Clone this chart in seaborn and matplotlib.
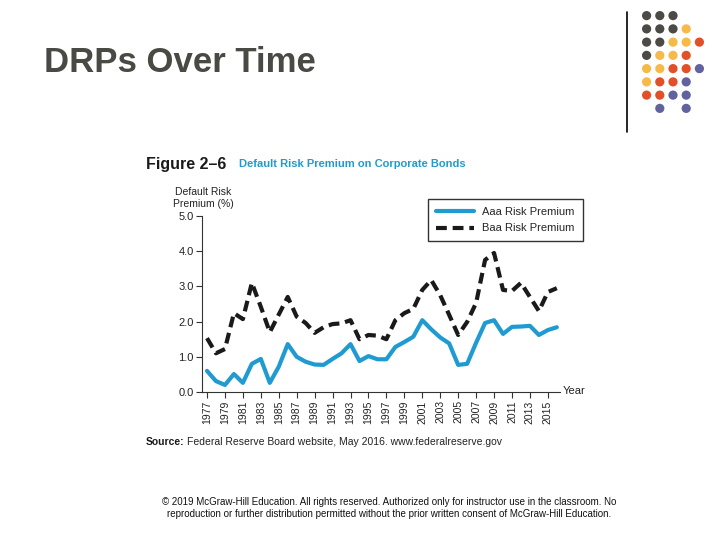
import matplotlib
matplotlib.use("Agg")
import matplotlib.pyplot as plt
import seaborn as sns
import pandas as pd
from matplotlib.lines import Line2D

# data (percent)
years = list(range(1977, 2017))
aaa = [0.60, 0.31, 0.20, 0.51, 0.26, 0.80, 0.94, 0.26, 0.72, 1.36,
       1.00, 0.86, 0.78, 0.77, 0.94, 1.10, 1.36, 0.88, 1.02, 0.93,
       0.93, 1.28, 1.42, 1.57, 2.04, 1.78, 1.55, 1.38, 0.77, 0.80,
       1.40, 1.96, 2.04, 1.65, 1.85, 1.86, 1.88, 1.62, 1.76, 1.84]
baa = [1.53, 1.10, 1.22, 2.24, 2.07, 3.10, 2.42, 1.70, 2.20, 2.70,
       2.14, 1.96, 1.68, 1.84, 1.93, 1.95, 2.04, 1.50, 1.62, 1.60,
       1.50, 2.04, 2.24, 2.36, 2.90, 3.18, 2.75, 2.19, 1.62, 1.99,
       2.53, 3.75, 3.95, 2.90, 2.87, 3.10, 2.70, 2.30, 2.84, 2.95]
xtick_years = list(range(1977, 2016, 2))
yticks = [0.0, 1.0, 2.0, 3.0, 4.0, 5.0]

# decorative dot grid, top right of the slide
dot_rows = [
    ["G", "G", "G", None, None],
    ["G", "G", "G", "Y", None],
    ["G", "G", "Y", "Y", "R"],
    ["G", "Y", "Y", "R", None],
    ["Y", "Y", "R", "R", "P"],
    ["Y", "R", "R", "P", None],
    ["R", "R", "P", "P", None],
    [None, "P", None, "P", None],
]
dot_colors = {"G": "#4b4a47", "Y": "#f6ba48", "R": "#e2502a", "P": "#62629e"}

sns.set_style("white")
plt.rcParams["font.family"] = ["Liberation Sans", "DejaVu Sans"]

fig = plt.figure(figsize=(7.2, 5.4), dpi=100)

# slide title
fig.text(44 / 720, 1 - 63 / 540, "DRPs Over Time", fontsize=25, fontweight="bold",
         color="#4a4a45", ha="left", va="center")

# slide decoration: vertical rule and dots
fig.add_artist(Line2D([627 / 720, 627 / 720], [1 - 12 / 540, 1 - 132 / 540],
                      color="black", lw=1.2))
dax = fig.add_axes([640 / 720, 1 - 115 / 540, 66 / 720, 106 / 540])
dx, dy, dc = [], [], []
for r, row in enumerate(dot_rows):
    for c, k in enumerate(row):
        if k:
            dx.append(c)
            dy.append(-r)
            dc.append(dot_colors[k])
sns.scatterplot(x=dx, y=dy, c=dc, s=44, linewidth=0, ax=dax)
dax.set_xlim(-0.5, 4.5)
dax.set_ylim(-7.5, 0.5)
dax.axis("off")

# figure caption
fig.text(146 / 720, 1 - 164 / 540, "Figure 2\u20136", fontsize=11.5, fontweight="bold",
         color="#1a1a1a", ha="left", va="center")
fig.text(239 / 720, 1 - 164 / 540, "Default Risk Premium on Corporate Bonds", fontsize=8,
         fontweight="bold", color="#1f9bd1", ha="left", va="center")
fig.text(203 / 720, 1 - 198 / 540, "Default Risk\nPremium (%)", fontsize=7.5,
         color="#222222", ha="center", va="center", linespacing=1.25)

ax = fig.add_axes([202 / 720, 1 - 392 / 540, 358 / 720, 176 / 540])
df = pd.DataFrame({"Year": years, "Aaa": aaa, "Baa": baa})
sns.lineplot(data=df, x="Year", y="Aaa", ax=ax, color="#1f9bd1", lw=3)
sns.lineplot(data=df, x="Year", y="Baa", ax=ax, color="#1a1a1a", lw=3,
             linestyle=(0, (2.6, 1.4)))
ax.set_xlim(1977 - 5 / 8.97, 1977 + 353 / 8.97)
ax.set_ylim(0, 5)
ax.set_xticks(xtick_years)
ax.set_xticklabels([str(y) for y in xtick_years], rotation=90, fontsize=7.5,
                   color="#222222")
ax.set_yticks(yticks)
ax.set_yticklabels([f"{v:.1f}" for v in yticks], fontsize=8, color="#222222")
ax.tick_params(axis="both", direction="out", length=4, width=0.8, color="#333333",
               pad=2, left=True, bottom=True)
sns.despine(ax=ax)
for s in ["left", "bottom"]:
    ax.spines[s].set_color("#333333")
    ax.spines[s].set_linewidth(0.8)
ax.set_xlabel("")
ax.set_ylabel("")
fig.text(563 / 720, 1 - 391 / 540, "Year", fontsize=8, color="#222222",
         ha="left", va="center")

handles = [Line2D([], [], color="#1f9bd1", lw=3),
           Line2D([], [], color="#1a1a1a", lw=3, linestyle=(0, (2.6, 1.4)))]
leg = fig.legend(handles, ["Aaa Risk Premium", "Baa Risk Premium"],
                 loc="upper left", bbox_to_anchor=(428 / 720, 1 - 199 / 540),
                 fontsize=8, frameon=True, fancybox=False, handlelength=3.4,
                 borderpad=0.7, labelspacing=0.6, borderaxespad=0)
leg.get_frame().set_edgecolor("black")
leg.get_frame().set_linewidth(1)

# source line
fig.text(146 / 720, 1 - 442 / 540, "Source:", fontsize=7.5, fontweight="bold",
         color="#1a1a1a", ha="left", va="center")
fig.text(187 / 720, 1 - 442 / 540,
         "Federal Reserve Board website, May 2016. www.federalreserve.gov",
         fontsize=7.5, color="#222222", ha="left", va="center")

# footer
fig.text(389 / 720, 1 - 508 / 540,
         "\u00a9 2019 McGraw-Hill Education. All rights reserved. Authorized only for instructor use in the classroom. No\n"
         "reproduction or further distribution permitted without the prior written consent of McGraw-Hill Education.",
         fontsize=7, color="#111111", ha="center", va="center", linespacing=1.3)

fig.savefig("out.png", dpi=100)
